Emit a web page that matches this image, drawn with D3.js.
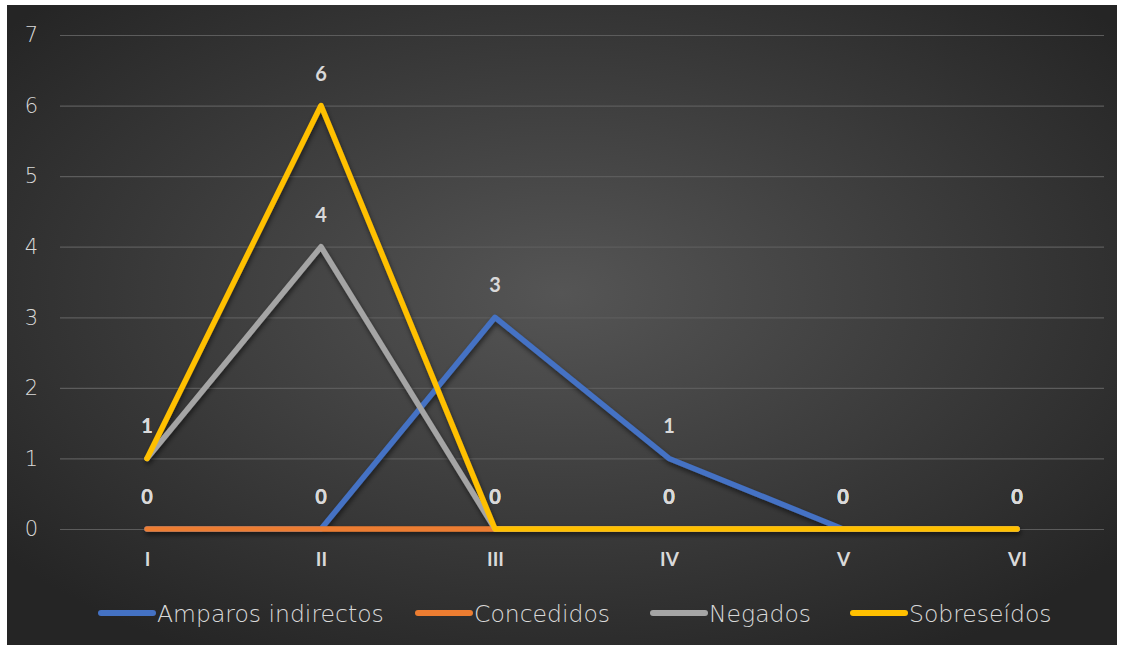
<!DOCTYPE html>
<html><head><meta charset="utf-8">
<script src="https://cdn.jsdelivr.net/npm/d3@7"></script>
<style>html,body{margin:0;padding:0;background:#fff;}svg{display:block;}</style>
</head><body>
<svg id="chart" width="1123" height="648"></svg>
<script>
const categories = ["I","II","III","IV","V","VI"];
const seriesNames = ["Amparos indirectos","Concedidos","Negados","Sobreseídos"];
const amparos = [0,0,3,1,0,0];
const concedidos = [0,0,0,0,0,0];
const negados = [1,4,0,0,0,0];
const sobreseidos = [1,6,0,0,0,0];
const yTicks = [0,1,2,3,4,5,6,7];
const colors = ["#4472C4","#ED7D31","#A5A5A5","#FFC000"];

const series = [amparos, concedidos, negados, sobreseidos].map((v,i)=>({name:seriesNames[i], values:v, color:colors[i]}));

const svg = d3.select("#chart");
const defs = svg.append("defs");
const rg = defs.append("radialGradient").attr("id","bg").attr("cx","50%").attr("cy","45%").attr("r","65%");
rg.append("stop").attr("offset","0%").attr("stop-color","#555555");
rg.append("stop").attr("offset","100%").attr("stop-color","#252525");
const f = defs.append("filter").attr("id","sh").attr("x","-10%").attr("y","-10%").attr("width","120%").attr("height","130%");
f.append("feDropShadow").attr("dx",1).attr("dy",3).attr("stdDeviation",2.5).attr("flood-color","#000").attr("flood-opacity",0.55);

svg.append("rect").attr("x",7).attr("y",5).attr("width",1110).attr("height",640).attr("fill","url(#bg)");

const x = d3.scalePoint().domain(categories).range([60,1104]).padding(0.5);
const y = d3.scaleLinear().domain([0,7]).range([529,35]);

const font = "Lato, 'Open Sans', sans-serif";
const lightFont = "'DejaVu Sans', sans-serif";

// gridlines
const yAxis = d3.axisLeft(y).tickValues(yTicks).tickSize(-(1104-60)).tickPadding(22).tickFormat(d3.format("d"));
const gy = svg.append("g").attr("transform","translate(60,0)").call(yAxis);
gy.select(".domain").remove();
gy.selectAll(".tick line").attr("stroke","#5c5c5c").attr("stroke-width",1.2);
gy.selectAll(".tick text").attr("fill","#d9d9d9").attr("font-family",lightFont).attr("font-weight",200).attr("font-size",21);

// x axis labels
const xAxis = d3.axisBottom(x).tickSize(0).tickPadding(24);
const gx = svg.append("g").attr("transform","translate(0,529)").call(xAxis);
gx.select(".domain").remove();
gx.selectAll(".tick text").attr("fill","#d9d9d9").attr("font-family",font).attr("font-weight",700).attr("font-size",19);

const line = d3.line().x((d,i)=>x(categories[i])).y(d=>y(d));
const lg = svg.append("g").attr("filter","url(#sh)");
series.forEach(s=>{
  lg.append("path").attr("d",line(s.values)).attr("fill","none").attr("stroke",s.color)
    .attr("stroke-width",5.5).attr("stroke-linejoin","round").attr("stroke-linecap","round");
});

// data labels
const labG = svg.append("g");
series.forEach(s=>{
  s.values.forEach((v,i)=>{
    labG.append("text").attr("x",x(categories[i])).attr("y",y(v)-25).attr("text-anchor","middle")
      .attr("fill","#d9d9d9").attr("font-family",font).attr("font-weight",700).attr("font-size",20).text(v);
  });
});

// legend
const legendX = [98,415,650,850];
const leg = svg.append("g");
series.forEach((s,i)=>{
  const g = leg.append("g").attr("transform",`translate(${legendX[i]},613)`);
  g.append("line").attr("x1",3).attr("x2",55).attr("y1",0).attr("y2",0).attr("stroke",s.color).attr("stroke-width",6).attr("stroke-linecap","round");
  g.append("text").attr("x",59).attr("y",9).attr("fill","#d9d9d9").attr("font-family",lightFont).attr("font-weight",200).attr("font-size",23.5).text(s.name);
});
</script>
</body></html>
